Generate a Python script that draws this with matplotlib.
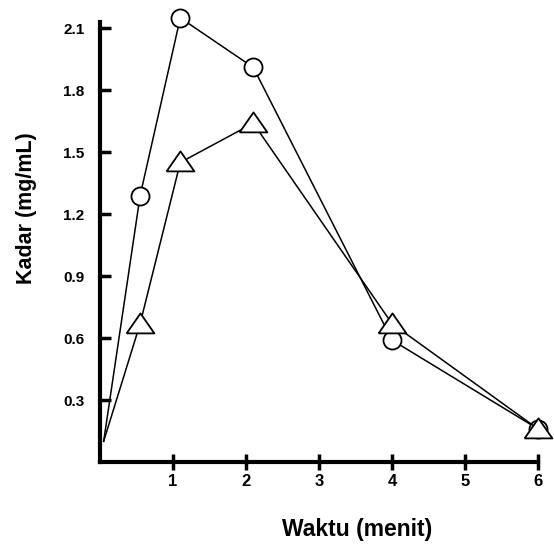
import numpy as np
import matplotlib.pyplot as plt

plt.rcParams['font.family'] = ['Liberation Sans', 'DejaVu Sans']

# data
waktu_o = [0.05, 0.55, 1.1, 2.1, 4.0, 6.0]
kadar_o = [0.10, 1.29, 2.15, 1.91, 0.59, 0.16]
waktu_t = [0.05, 0.55, 1.1, 2.1, 4.0, 6.0]
kadar_t = [0.10, 0.67, 1.45, 1.64, 0.67, 0.16]

xticks = [1, 2, 3, 4, 5, 6]
yticks = [0.3, 0.6, 0.9, 1.2, 1.5, 1.8, 2.1]

# wide, flat triangle like the scanned one
tri = [(-1.25, -0.8), (1.25, -0.8), (0, 1), (-1.25, -0.8)]


def main():
    fig = plt.figure(figsize=(5.54, 5.5), dpi=100)
    ax = fig.add_axes([0.1805, 0.16, 0.7906, 0.80])

    # first point is the start of the line only, no marker there
    ax.plot(waktu_o, kadar_o, color='black', lw=1.1, marker='o', ms=13,
            mfc='white', mec='black', mew=1.3, markevery=slice(1, None),
            clip_on=False, zorder=3)
    ax.plot(waktu_t, kadar_t, color='black', lw=1.1, marker=tri, ms=20,
            mfc='white', mec='black', mew=1.3, markevery=slice(1, None),
            clip_on=False, zorder=3)

    ax.set_xlim(0, 6)
    ax.set_ylim(0, 2.13)
    for s in ['top', 'right']:
        ax.spines[s].set_visible(False)
    for s in ['left', 'bottom']:
        ax.spines[s].set_linewidth(3)

    ax.set_xticks(xticks)
    ax.set_yticks(yticks)
    ax.set_yticklabels(['%.1f' % v for v in yticks])
    ax.tick_params(axis='y', direction='in', length=8, width=2.5, pad=11,
                   labelsize=11)
    ax.tick_params(axis='x', direction='inout', length=12, width=2.5, pad=3,
                   labelsize=12)
    for lab in ax.get_xticklabels() + ax.get_yticklabels():
        lab.set_fontweight('bold')

    ax.set_xlabel('Waktu (menit)', fontsize=16.5, fontweight='bold')
    ax.xaxis.set_label_coords(0.587, -0.127)
    ax.set_ylabel('Kadar (mg/mL)', fontsize=15.5, fontweight='bold')
    ax.yaxis.set_label_coords(-0.144, 0.577)

    fig.savefig('out.png', dpi=100)


if __name__ == '__main__':
    main()
